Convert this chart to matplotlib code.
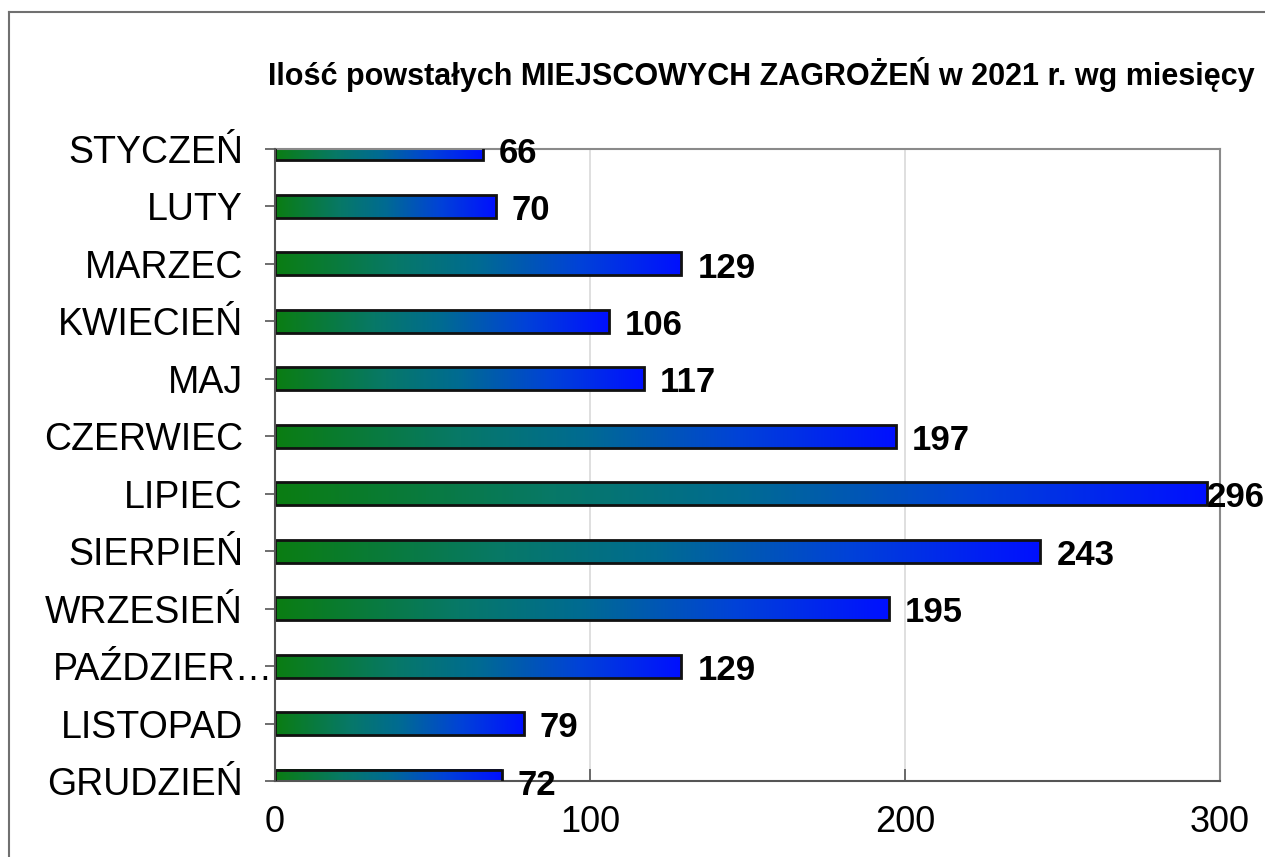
import matplotlib
matplotlib.use("Agg")
from matplotlib import pyplot as plt
from matplotlib.colors import LinearSegmentedColormap
from matplotlib.lines import Line2D
from matplotlib.transforms import ScaledTranslation
import numpy as np

months = ["STYCZEŃ", "LUTY", "MARZEC", "KWIECIEŃ", "MAJ", "CZERWIEC", "LIPIEC",
          "SIERPIEŃ", "WRZESIEŃ", "PAŹDZIER…", "LISTOPAD", "GRUDZIEŃ"]
counts = [66, 70, 129, 106, 117, 197, 296, 243, 195, 129, 79, 72]
x_ticks = [0, 100, 200, 300]
title = "Ilość powstałych MIEJSCOWYCH ZAGROŻEŃ w 2021 r. wg miesięcy"

plt.rcParams['font.family'] = ['Liberation Sans', 'DejaVu Sans']

grad = LinearSegmentedColormap.from_list(
    "gb", [(0.0, "#0b7d12"), (0.3, "#077868"), (0.5, "#006b92"),
           (0.75, "#0042d8"), (1.0, "#0010ff")])

fig = plt.figure(figsize=(12.65, 8.57), dpi=100)
ax = fig.add_axes([275 / 1265, 1 - 781 / 857, 945 / 1265, 632 / 857])

# outer chart frame
fig.add_artist(Line2D([9 / 1265, 9 / 1265], [0, 1 - 12 / 857], transform=fig.transFigure,
                      color="#707070", lw=1.5))
fig.add_artist(Line2D([9 / 1265, 1], [1 - 12 / 857, 1 - 12 / 857], transform=fig.transFigure,
                      color="#707070", lw=1.5))

ypos = np.arange(len(months))
h = 0.4
row = np.linspace(0, 1, 256).reshape(1, -1)
for y, v in zip(ypos, counts):
    ax.imshow(row, cmap=grad, aspect="auto", extent=[0, v, y + h / 2, y - h / 2],
              zorder=2, interpolation="bilinear")
ax.barh(ypos, counts, height=h, facecolor="none", edgecolor="#111111", linewidth=2, zorder=3)

ax.set_xlim(0, 300)
ax.set_ylim(len(months) - 1, 0)
ax.set_xticks(x_ticks)
ax.set_yticks(ypos)
ax.set_yticklabels(months)
ax.grid(axis="x", color="#d9d9d9", lw=1.2, zorder=0)
ax.set_axisbelow(True)

for s in ["top", "right"]:
    ax.spines[s].set_color("#8a8a8a")
    ax.spines[s].set_linewidth(1.5)
for s in ["left", "bottom"]:
    ax.spines[s].set_color("#555555")
    ax.spines[s].set_linewidth(1.5)
ax.spines["left"].set_zorder(4)

ax.tick_params(axis="y", direction="out", length=7, width=1.2, color="#555555",
               labelsize=27, pad=16)
ax.tick_params(axis="x", direction="in", length=8.5, width=1.2, color="#555555",
               labelsize=26, pad=17)

# the truncated label sticks out over the tick, like in the original
lab = ax.get_yticklabels()[9]
lab.set_transform(lab.get_transform() + ScaledTranslation(30 / 100, 0, fig.dpi_scale_trans))

labels = []
for y, v in zip(ypos, counts):
    t = ax.annotate(str(v), xy=(v, y), xytext=(11.5, -3), textcoords="offset points",
                    ha="left", va="center", fontsize=25, fontweight="bold",
                    annotation_clip=False, zorder=5)
    labels.append(t)

fig.text(761 / 1265, 1 - 75 / 857, title, ha="center", va="center",
         fontsize=22, fontweight="bold")

# keep value labels inside the chart area, as the original does
fig.canvas.draw()
rend = fig.canvas.get_renderer()
W = fig.bbox.width
for t in labels:
    bb = t.get_window_extent(rend)
    if bb.x1 > W:
        t.xyann = (t.xyann[0] - (bb.x1 - W) * 72 / fig.dpi, t.xyann[1])

fig.savefig("out.png", dpi=100)
